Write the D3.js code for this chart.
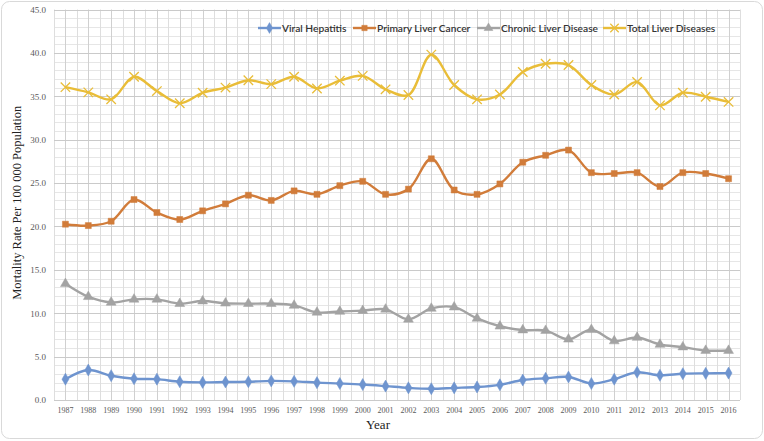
<!DOCTYPE html>
<html><head><meta charset="utf-8">
<script src="https://cdn.jsdelivr.net/npm/d3@7"></script>
<style>html,body{margin:0;padding:0;background:#fff;}svg{display:block;}</style>
</head><body>
<svg id="chart" width="764" height="441"></svg>
<script>
const years = [1987,1988,1989,1990,1991,1992,1993,1994,1995,1996,1997,1998,1999,2000,2001,2002,2003,2004,2005,2006,2007,2008,2009,2010,2011,2012,2013,2014,2015,2016];
const viralHepatitis = [2.4,3.45,2.8,2.45,2.4,2.1,2.03,2.07,2.1,2.2,2.15,2.0,1.9,1.78,1.6,1.4,1.3,1.4,1.5,1.75,2.3,2.5,2.65,1.9,2.4,3.2,2.85,3.03,3.07,3.1];
const primaryLiverCancer = [20.26,20.1,20.6,23.1,21.6,20.8,21.8,22.6,23.6,23.0,24.1,23.7,24.7,25.2,23.7,24.3,27.8,24.2,23.7,24.9,27.4,28.2,28.8,26.2,26.1,26.2,24.6,26.2,26.1,25.5];
const chronicLiverDisease = [13.4,11.9,11.25,11.6,11.6,11.1,11.4,11.15,11.1,11.1,10.9,10.1,10.2,10.3,10.45,9.3,10.55,10.7,9.4,8.5,8.06,8.0,7.0,8.1,6.8,7.2,6.4,6.1,5.7,5.7];
const totalLiverDiseases = [36.05,35.45,34.65,37.25,35.6,34.2,35.4,36.0,36.85,36.4,37.25,35.9,36.8,37.35,35.8,35.15,39.8,36.3,34.65,35.2,37.8,38.75,38.6,36.3,35.2,36.65,33.95,35.4,34.95,34.35];
const seriesNames = ["Viral Hepatitis","Primary Liver Cancer","Chronic Liver Disease","Total Liver Diseases"];
const yTicks = [0,5,10,15,20,25,30,35,40,45];

const colors = ["#6e94cf","#d17c3a","#a3a3a3","#e9bd38"];
const symbols = [d3.symbolDiamond, d3.symbolSquare, d3.symbolTriangle, d3.symbolX];
const symSizes = [42, 36, 42, 60];
const series = [viralHepatitis, primaryLiverCancer, chronicLiverDisease, totalLiverDiseases];

const svg = d3.select("#chart");
const W = 764, H = 441;
const m = {left:54, right:24, top:9.5, bottom:41};

svg.append("rect").attr("x",1.5).attr("y",1.5).attr("width",W-3).attr("height",H-4)
  .attr("rx",8).attr("fill","#fff").attr("stroke","#d9d9d9").attr("stroke-width",1);

const x = d3.scaleBand().domain(years).range([m.left, W-m.right]);
const y = d3.scaleLinear().domain([0,45]).range([H-m.bottom, m.top]);
const xc = d => x(d) + x.bandwidth()/2;

const g = svg.append("g");
const minorY = d3.range(0,45.01,1).filter(v => v % 5 !== 0);
g.selectAll(".hminor").data(minorY).join("line")
  .attr("x1",m.left).attr("x2",W-m.right)
  .attr("y1",d=>Math.round(y(d))+0.5).attr("y2",d=>Math.round(y(d))+0.5)
  .attr("stroke","#e6e6e6").attr("stroke-width",1);
const bounds = years.map(d => x(d)).concat([W-m.right]);
g.selectAll(".vminor").data(bounds).join("line")
  .attr("x1",d=>Math.round(d)+0.5).attr("x2",d=>Math.round(d)+0.5)
  .attr("y1",m.top).attr("y2",H-m.bottom)
  .attr("stroke","#dedede").attr("stroke-width",1);
g.selectAll(".vmajor").data(years).join("line")
  .attr("x1",d=>Math.round(xc(d))+0.5).attr("x2",d=>Math.round(xc(d))+0.5)
  .attr("y1",m.top).attr("y2",H-m.bottom)
  .attr("stroke","#d0d0d0").attr("stroke-width",1);
g.selectAll(".hmajor").data(yTicks).join("line")
  .attr("x1",m.left).attr("x2",W-m.right)
  .attr("y1",d=>Math.round(y(d))+0.5).attr("y2",d=>Math.round(y(d))+0.5)
  .attr("stroke","#cacaca").attr("stroke-width",1);

const yAxis = d3.axisLeft(y).tickValues(yTicks).tickFormat(d3.format(".1f")).tickSize(0).tickPadding(8);
const ya = svg.append("g").attr("transform",`translate(${m.left},0)`).call(yAxis);
ya.select(".domain").remove();
ya.selectAll("text").attr("fill","#595959").style("font-family","'Liberation Serif', serif").style("font-size","9px");

const xAxis = d3.axisBottom(x).tickSize(0).tickPadding(7);
const xa = svg.append("g").attr("transform",`translate(0,${H-m.bottom})`).call(xAxis);
xa.select(".domain").remove();
xa.selectAll("text").attr("fill","#595959").style("font-family","'Liberation Serif', serif").style("font-size","8px");

svg.append("text").attr("x",378).attr("y",429).attr("text-anchor","middle")
  .style("font-family","'Liberation Serif', serif").style("font-size","13px").attr("fill","#222").text("Year");
svg.append("text").attr("transform",`translate(21,${(m.top+H-m.bottom)/2-2}) rotate(-90)`).attr("text-anchor","middle")
  .style("font-family","'Liberation Serif', serif").style("font-size","12.5px").attr("fill","#222")
  .text("Mortality Rate Per 100 000 Population");

const line = d3.line().x((d,i)=>xc(years[i])).y(d=>y(d)).curve(d3.curveCatmullRom.alpha(0.5));
series.forEach((s,k) => {
  const sg = svg.append("g");
  sg.append("path").attr("d",line(s)).attr("fill","none").attr("stroke",colors[k]).attr("stroke-width",2.4);
  sg.selectAll("path.mk").data(s).join("path").attr("class","mk")
    .attr("transform",(d,i)=>`translate(${xc(years[i])},${y(d)})`)
    .attr("d",d3.symbol(symbols[k],symSizes[k]))
    .attr("fill",colors[k]).attr("stroke",colors[k]).attr("stroke-width",k===3?1.3:0.5);
});

const legX = [258, 353, 477, 603];
const lg = svg.append("g");
seriesNames.forEach((n,k) => {
  const gx = legX[k], gy = 28;
  lg.append("line").attr("x1",gx).attr("x2",gx+23).attr("y1",gy).attr("y2",gy)
    .attr("stroke",colors[k]).attr("stroke-width",2.4);
  lg.append("path").attr("transform",`translate(${gx+11.5},${gy})`).attr("d",d3.symbol(symbols[k],symSizes[k]*0.8))
    .attr("fill",colors[k]).attr("stroke",colors[k]).attr("stroke-width",k===3?1.2:0.5);
  lg.append("text").attr("x",gx+24).attr("y",gy+3.6).text(n)
    .style("font-family","Lato, sans-serif").style("font-size","10.2px").style("font-weight","600").attr("fill","#333");
});
</script>
</body></html>
